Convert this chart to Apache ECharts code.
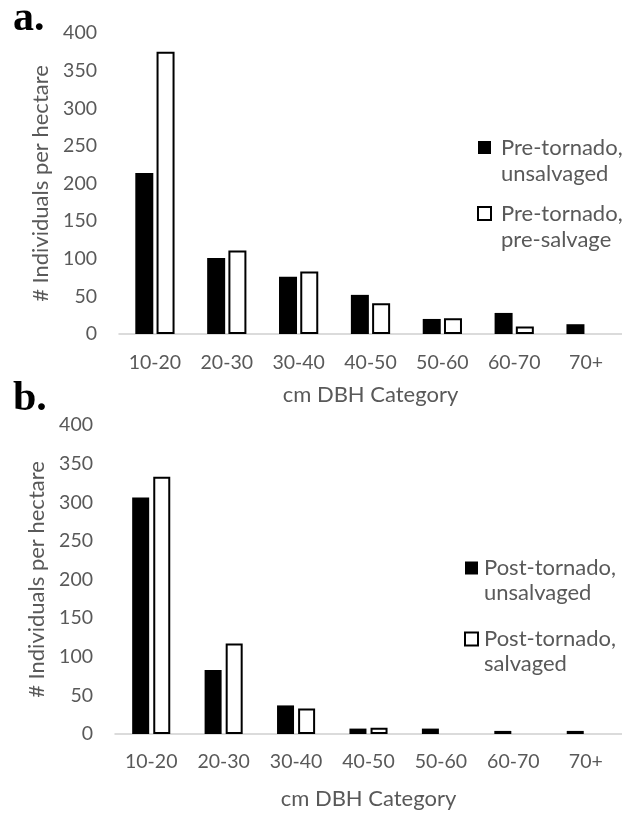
<!DOCTYPE html>
<html>
<head>
<meta charset="utf-8">
<script src="https://cdn.jsdelivr.net/npm/echarts@6/dist/echarts.min.js"></script>
<style>
html,body{margin:0;padding:0;background:#fff;}
#c{width:622px;height:814px;}
</style>
</head>
<body>
<div id="c"></div>
<script>
// ---- data ----
var categories = ['10-20', '20-30', '30-40', '40-50', '50-60', '60-70', '70+'];
var preUnsalvaged = [214, 101, 76, 52, 20, 28, 13];
var preSalvage = [375, 111, 83, 41, 21, 10, 0];
var postUnsalvaged = [306, 83, 37, 7, 7, 4, 4];
var postSalvaged = [333, 117, 33, 8, 0, 0, 0];
var yMin = 0, yMax = 400, yStep = 50;
var panelLabels = ['a.', 'b.'];
var yName = '# Individuals per hectare';
var xName = 'cm DBH Category';
var seriesNames = ['Pre-tornado, unsalvaged', 'Pre-tornado, pre-salvage', 'Post-tornado, unsalvaged', 'Post-tornado, salvaged'];

var FONT = 'Lato';
var TXT = '#595959';
function clean(arr) { return arr.map(function (v) { return v === 0 ? '-' : v; }); }

var chart = echarts.init(document.getElementById('c'), null, {renderer: 'canvas'});

function xAxis(gi, margin, nameGap) {
  return {
    type: 'category', gridIndex: gi, data: categories,
    axisTick: {show: false},
    axisLine: {lineStyle: {color: '#d0d0d0', width: 1.5}},
    axisLabel: {color: TXT, fontFamily: FONT, fontSize: 19.5, margin: margin},
    name: xName, nameLocation: 'middle', nameGap: nameGap,
    nameTextStyle: {color: TXT, fontFamily: FONT, fontSize: 22}
  };
}
function yAxis(gi, nameGap) {
  return {
    type: 'value', gridIndex: gi, min: yMin, max: yMax, interval: yStep,
    splitLine: {show: false}, axisLine: {show: false}, axisTick: {show: false},
    axisLabel: {color: TXT, fontFamily: FONT, fontSize: 19.5, margin: 22},
    name: yName, nameLocation: 'middle', nameGap: nameGap, nameRotate: 90,
    nameTextStyle: {color: TXT, fontFamily: FONT, fontSize: 22}
  };
}
function legendFmt(n) {
  var parts = n.split(', ');
  return '{t| }\n{t|' + parts[0] + ',}\n{t|' + parts[1] + '}';
}
function legendText(lh, padLeft) {
  return {
    color: TXT, fontFamily: FONT, fontSize: 22,
    rich: {t: {color: TXT, fontFamily: FONT, fontSize: 22, lineHeight: lh, padding: [0, 0, 0, padLeft]}}
  };
}

var option = {
  animation: false,
  backgroundColor: '#fff',
  grid: [
    {left: 119, top: 33, right: -8, height: 301},
    {left: 115, top: 425, right: -7, height: 309}
  ],
  xAxis: [xAxis(0, 19, 50), xAxis(1, 18, 54)],
  yAxis: [yAxis(0, 66), yAxis(1, 64)],
  legend: [
    {
      data: [seriesNames[0], seriesNames[1]],
      orient: 'vertical', left: 477, top: 110, padding: 0,
      itemWidth: 13, itemHeight: 13, itemGap: -9,
      icon: 'rect', formatter: legendFmt,
      textStyle: legendText(26.5, 5)
    },
    {
      data: [seriesNames[2], seriesNames[3]],
      orient: 'vertical', left: 464, top: 532, padding: 0,
      itemWidth: 13, itemHeight: 13, itemGap: -1,
      icon: 'rect', formatter: legendFmt,
      textStyle: legendText(25, 1)
    }
  ],
  graphic: [
    {type: 'text', x: 13, y: 19, style: {text: panelLabels[0], font: 'bold 42px "Liberation Serif"', fill: '#000', verticalAlign: 'middle'}},
    {type: 'text', x: 13, y: 399, style: {text: panelLabels[1], font: 'bold 42px "Liberation Serif"', fill: '#000', verticalAlign: 'middle'}}
  ],
  series: [
    {name: seriesNames[0], type: 'bar', xAxisIndex: 0, yAxisIndex: 0, data: clean(preUnsalvaged),
     barWidth: 18, barGap: '18%', itemStyle: {color: '#000'}},
    {name: seriesNames[1], type: 'bar', xAxisIndex: 0, yAxisIndex: 0, data: clean(preSalvage),
     barWidth: 18, barGap: '18%', itemStyle: {color: '#fff', borderColor: '#000', borderWidth: 2}},
    {name: seriesNames[2], type: 'bar', xAxisIndex: 1, yAxisIndex: 1, data: clean(postUnsalvaged),
     barWidth: 17, barGap: '24%', itemStyle: {color: '#000'}},
    {name: seriesNames[3], type: 'bar', xAxisIndex: 1, yAxisIndex: 1, data: clean(postSalvaged),
     barWidth: 17, barGap: '24%', itemStyle: {color: '#fff', borderColor: '#000', borderWidth: 2}}
  ]
};
chart.setOption(option);
</script>
</body>
</html>
